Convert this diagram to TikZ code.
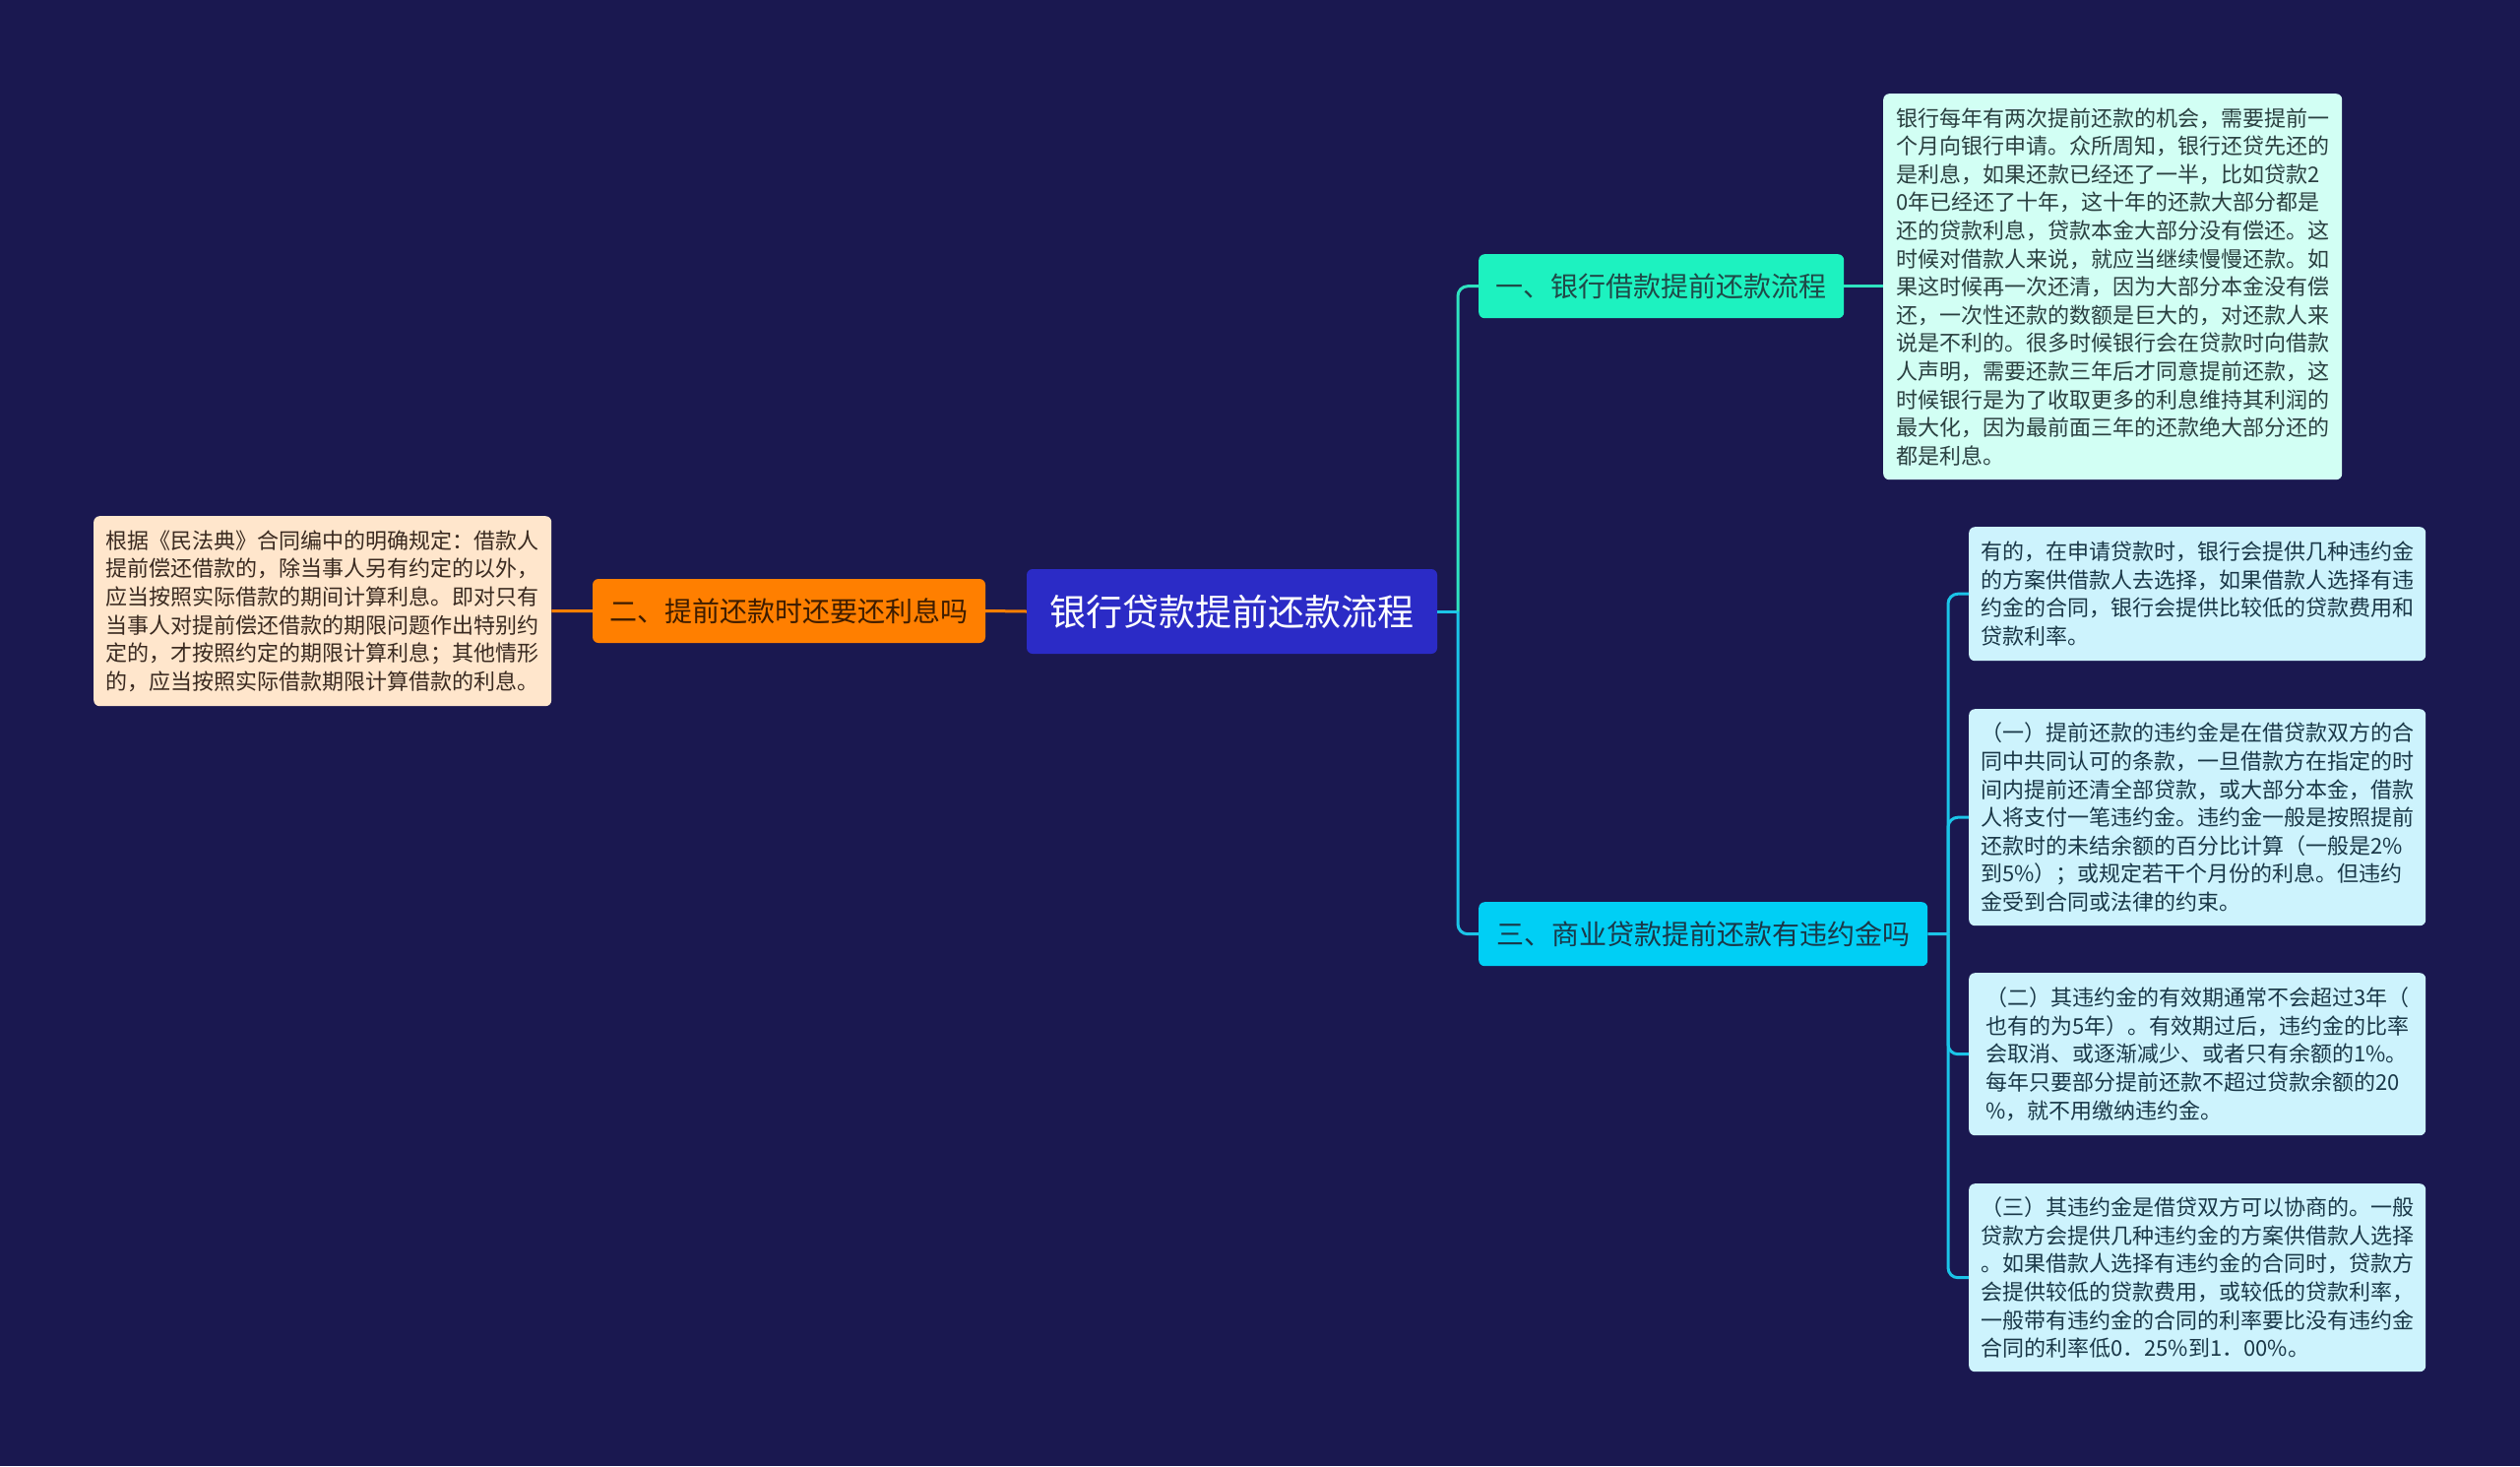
\documentclass[tikz,border=0pt]{standalone}
\usepackage{fontspec}
\setmainfont{Noto Sans CJK SC}
\definecolor{bg}{HTML}{1A1850}
\definecolor{rootfill}{HTML}{2B2BC6}
\definecolor{orangefill}{HTML}{FF7F00}
\definecolor{orangetext}{HTML}{3D1C00}
\definecolor{peach}{HTML}{FFE6CC}
\definecolor{peachtext}{HTML}{3A2A20}
\definecolor{tealfill}{HTML}{1DF2C0}
\definecolor{tealtext}{HTML}{1F4A48}
\definecolor{mint}{HTML}{D2FFF4}
\definecolor{minttext}{HTML}{2A4040}
\definecolor{cyanfill}{HTML}{00CFF5}
\definecolor{cyantext}{HTML}{1A3848}
\definecolor{lightcyan}{HTML}{CDF3FD}
\definecolor{tealline}{HTML}{2FE3C0}
\definecolor{cyanline}{HTML}{1BC5E8}
\begin{document}
\begin{tikzpicture}[x=1pt,y=-1pt,
  box/.style={rounded corners=6pt, inner sep=0pt, align=left},
  detail/.style={box, anchor=north west, font=\fontsize{22}{28.6}\selectfont},
  topic/.style={box, anchor=north west, minimum height=65pt, font=\fontsize{28}{34}\selectfont},
  conn/.style={line width=3pt, rounded corners=10pt}]
\useasboundingbox (0,0) rectangle (2560,1489);
\fill[bg] (0,0) rectangle (2560,1489);

% root
\node[box, fill=rootfill, text=white, minimum width=417pt, minimum height=86pt,
  font=\fontsize{37}{44}\selectfont] (root) at (1251.5,621) {银行贷款提前还款流程};

% left branch
\node[box, fill=orangefill, text=orangetext, minimum width=399pt, minimum height=65pt,
  font=\fontsize{28}{34}\selectfont] (n2) at (801.5,620.5) {二、提前还款时还要还利息吗};
\node[detail, fill=peach, text=peachtext, minimum width=465pt, minimum height=193pt] (d2) at (95,524)
{根据《民法典》合同编中的明确规定：借款人\\
提前偿还借款的，除当事人另有约定的以外，\\
应当按照实际借款的期间计算利息。即对只有\\
当事人对提前偿还借款的期限问题作出特别约\\
定的，才按照约定的期限计算利息；其他情形\\
的，应当按照实际借款期限计算借款的利息。};

% right branch 1
\node[topic, fill=tealfill, text=tealtext, minimum width=371pt] (n1) at (1502,258) {一、银行借款提前还款流程};
\node[detail, fill=mint, text=minttext, minimum width=466pt, minimum height=392pt] (d1) at (1913,95)
{银行每年有两次提前还款的机会，需要提前一\\
个月向银行申请。众所周知，银行还贷先还的\\
是利息，如果还款已经还了一半，比如贷款2\\
0年已经还了十年，这十年的还款大部分都是\\
还的贷款利息，贷款本金大部分没有偿还。这\\
时候对借款人来说，就应当继续慢慢还款。如\\
果这时候再一次还清，因为大部分本金没有偿\\
还，一次性还款的数额是巨大的，对还款人来\\
说是不利的。很多时候银行会在贷款时向借款\\
人声明，需要还款三年后才同意提前还款，这\\
时候银行是为了收取更多的利息维持其利润的\\
最大化，因为最前面三年的还款绝大部分还的\\
都是利息。};

% right branch 3
\node[topic, fill=cyanfill, text=cyantext, minimum width=456pt] (n3) at (1502,916) {三、商业贷款提前还款有违约金吗};
\node[detail, fill=lightcyan, text=cyantext, minimum width=464pt, minimum height=136pt] (a) at (2000,535)
{有的，在申请贷款时，银行会提供几种违约金\\
的方案供借款人去选择，如果借款人选择有违\\
约金的合同，银行会提供比较低的贷款费用和\\
贷款利率。};
\node[detail, fill=lightcyan, text=cyantext, minimum width=464pt, minimum height=220pt] (b) at (2000,720)
{（一）提前还款的违约金是在借贷款双方的合\\
同中共同认可的条款，一旦借款方在指定的时\\
间内提前还清全部贷款，或大部分本金，借款\\
人将支付一笔违约金。违约金一般是按照提前\\
还款时的未结余额的百分比计算（一般是2\%\\
到5\%）；或规定若干个月份的利息。但违约\\
金受到合同或法律的约束。};
\node[detail, fill=lightcyan, text=cyantext, minimum width=464pt, minimum height=165pt] (c) at (2000,988)
{（二）其违约金的有效期通常不会超过3年（\\
也有的为5年）。有效期过后，违约金的比率\\
会取消、或逐渐减少、或者只有余额的1\%。\\
每年只要部分提前还款不超过贷款余额的20\\
\%，就不用缴纳违约金。};
\node[detail, fill=lightcyan, text=cyantext, minimum width=464pt, minimum height=191pt] (d) at (2000,1202)
{（三）其违约金是借贷双方可以协商的。一般\\
贷款方会提供几种违约金的方案供借款人选择\\
。如果借款人选择有违约金的合同时，贷款方\\
会提供较低的贷款费用，或较低的贷款利率，\\
一般带有违约金的合同的利率要比没有违约金\\
合同的利率低0．25\%到1．00\%。};

% connectors
\coordinate (j1) at (1481,621);
\coordinate (j2) at (1979,948.5);
\draw[conn, orangefill] (root.west) -- (n2.east);
\draw[conn, orangefill] (n2.west) -- (d2.east);
\draw[conn, cyanline] (root.east) -- (j1);
\draw[conn, tealline] (j1) |- (n1.west);
\draw[conn, cyanline] (j1) |- (n3.west);
\draw[conn, tealline] (n1.east) -- (d1.west |- n1.east);
\draw[conn, cyanline] (n3.east) -- (j2);
\draw[conn, cyanline] (j2) |- (a.west);
\draw[conn, cyanline] (j2) |- (b.west);
\draw[conn, cyanline] (j2) |- (c.west);
\draw[conn, cyanline] (j2) |- (d.west);
\end{tikzpicture}
\end{document}
